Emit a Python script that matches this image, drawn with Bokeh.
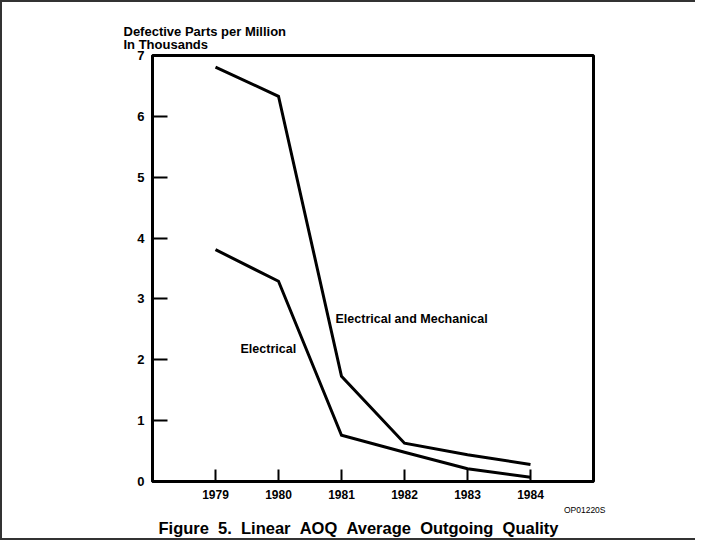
from bokeh.plotting import figure
from bokeh.models import Label, FixedTicker, Title
from bokeh.embed import file_html
from bokeh.resources import INLINE

years = [1979, 1980, 1981, 1982, 1983, 1984]
elec_mech = [6.81, 6.33, 1.73, 0.63, 0.44, 0.28]
elec = [3.81, 3.29, 0.76, 0.48, 0.21, 0.07]
y_ticks = [0, 1, 2, 3, 4, 5, 6, 7]

FONT = "Liberation Sans"
SP = " \u00a0"

p = figure(width=695, height=540, x_range=(1978, 1985), y_range=(0, 7),
           output_backend="svg", toolbar_location=None,
           min_border_left=150, min_border_right=104,
           min_border_top=53, min_border_bottom=61)
p.styles = {"border-top": "2px solid #333333", "border-left": "2px solid #333333",
            "border-bottom": "2px solid #333333"}

p.xgrid.visible = False
p.ygrid.visible = False
p.background_fill_color = "white"
p.border_fill_color = "white"
p.outline_line_color = "black"
p.outline_line_width = 3
p.outline_line_alpha = 1.0

for ax in (p.xaxis[0], p.yaxis[0]):
    ax.axis_line_width = 3
    ax.axis_line_color = "black"
    ax.major_tick_line_width = 2
    ax.major_tick_line_color = "black"
    ax.major_tick_out = 0
    ax.minor_tick_in = 0
    ax.minor_tick_out = 0
    ax.major_label_text_font = FONT
    ax.major_label_text_font_style = "bold"
    ax.major_label_text_color = "black"

p.xaxis.ticker = FixedTicker(ticks=years)
p.xaxis.major_tick_in = 12
p.xaxis.major_label_text_font_size = "12px"
p.xaxis.major_label_standoff = 8

p.yaxis.ticker = FixedTicker(ticks=y_ticks)
p.yaxis.major_tick_in = 15
p.yaxis.major_label_text_font_size = "13px"
p.yaxis.major_label_standoff = 8

p.line(years, elec_mech, line_color="black", line_width=3, line_join="miter")
p.line(years, elec, line_color="black", line_width=3, line_join="miter")

def lab(x, y, text, size, style="bold", align="left", baseline="alphabetic"):
    p.add_layout(Label(x=x, y=y, text=text, text_font=FONT, text_font_size=size,
                       text_font_style=style, text_color="black",
                       text_align=align, text_baseline=baseline))

lab(1979.397, 2.177, "Electrical", "12.5px", baseline="middle")
lab(1980.905, 2.678, "Electrical and Mechanical", "12.5px", baseline="middle")

def ttl(text, where, size, align, offset, style="bold", standoff=0, lh=1.0):
    p.add_layout(Title(text=text, align=align, offset=offset, text_font=FONT,
                       text_font_size=size, text_font_style=style, text_color="black",
                       standoff=standoff, text_line_height=lh), where)

# axis title above the frame
ttl("Defective Parts per Million\nIn Thousands", "above", "13px", "left", -29, standoff=8, lh=0.85)
# below: OP code then caption
ttl("OP01220S", "below", "8.5px", "right", -12, style="normal", standoff=2)
ttl(SP.join(["Figure", "5.", "Linear", "AOQ", "Average", "Outgoing", "Quality"]),
    "below", "16.5px", "left", 6, standoff=3)

open("out.html", "w").write(file_html(p, INLINE))
